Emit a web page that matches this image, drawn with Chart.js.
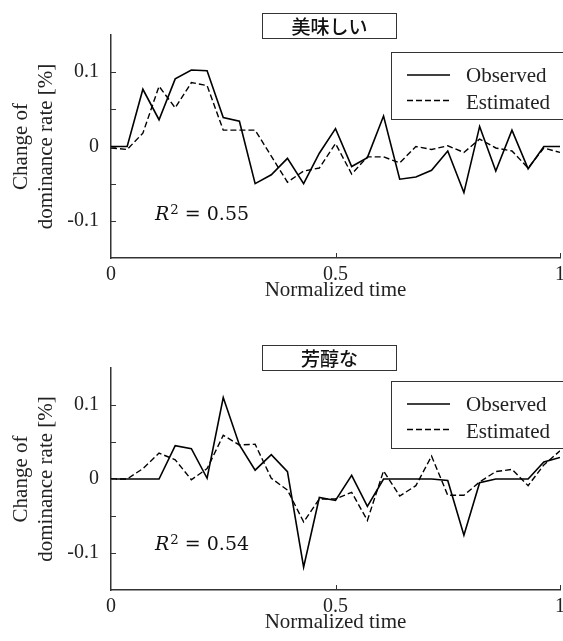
<!DOCTYPE html>
<html>
<head>
<meta charset="utf-8">
<script src="https://cdn.jsdelivr.net/npm/chart.js@4.4.1/dist/chart.umd.min.js"></script>
<style>
  html, body { margin: 0; padding: 0; background: #fff; }
  #wrap { position: relative; width: 563px; height: 641px; overflow: hidden; background: #fff; }
  canvas { position: absolute; left: 0; }
  .ttl { position: absolute; left: 262px; width: 135px; height: 26px; box-sizing: border-box;
         border: 1px solid #333; text-align: center; line-height: 24px;
         font-family: "Noto Sans CJK JP", "Noto Sans CJK SC", sans-serif; font-size: 19px; font-weight: 500; color: #111; }
  .r2 { position: absolute; left: 155px; font-family: "DejaVu Serif", serif; font-size: 19px; line-height: 1; color: #111; white-space: nowrap; }
  .r2 sup { font-size: 0.7em; position: relative; top: -0.1em; vertical-align: top; margin-left: 1px; }
</style>
</head>
<body>
<div id="wrap">
  <canvas id="c1" width="600" height="320" style="top:0px;width:600px;height:320px"></canvas>
  <canvas id="c2" width="600" height="321" style="top:320px;width:600px;height:321px"></canvas>
  <div class="ttl" style="top:13px">美味しい</div>
  <div class="ttl" style="top:345px">芳醇な</div>
  <div class="r2" style="top:204px"><i>R</i><sup>2</sup> = 0.55</div>
  <div class="r2" style="top:534px"><i>R</i><sup>2</sup> = 0.54</div>
</div>
<script>
// ---- data ----
const times = [0, 0.036, 0.071, 0.107, 0.143, 0.179, 0.214, 0.25, 0.286, 0.321, 0.357, 0.393, 0.429, 0.464, 0.5,
               0.536, 0.571, 0.607, 0.643, 0.679, 0.714, 0.75, 0.786, 0.821, 0.857, 0.893, 0.929, 0.964, 1];
const seriesNames = ["Observed", "Estimated"];
const titles = ["美味しい", "芳醇な"];
const xTickLabels = ["0", "0.5", "1"];
const yTickLabels = ["-0.1", "0", "0.1"];
const xAxisTitle = "Normalized time";
const yAxisTitle = ["Change of", "dominance rate [%]"];

const observed1 = [0, 0, 0.077, 0.036, 0.091, 0.103, 0.102, 0.039, 0.034, -0.050, -0.038, -0.016, -0.050, -0.009, 0.024,
                   -0.027, -0.015, 0.041, -0.044, -0.041, -0.032, -0.006, -0.062, 0.027, -0.033, 0.022, -0.030, 0.000, 0.000];
const estimated1 = [-0.002, -0.004, 0.018, 0.081, 0.052, 0.086, 0.082, 0.022, 0.022, 0.022, -0.013, -0.048, -0.033, -0.029, 0.004,
                    -0.037, -0.014, -0.014, -0.022, 0.000, -0.004, 0.001, -0.008, 0.010, -0.002, -0.006, -0.029, -0.002, -0.008];
const observed2 = [0, 0, 0, 0, 0.045, 0.041, 0.001, 0.110, 0.046, 0.012, 0.033, 0.010, -0.119, -0.025, -0.029,
                   0.005, -0.037, 0, 0, 0, 0, -0.002, -0.076, -0.005, 0, 0, 0, 0.023, 0.029];
const estimated2 = [0, 0, 0.014, 0.035, 0.026, -0.001, 0.014, 0.059, 0.046, 0.047, 0.001, -0.015, -0.058, -0.027, -0.027,
                    -0.018, -0.056, 0.011, -0.023, -0.009, 0.031, -0.022, -0.022, -0.004, 0.010, 0.013, -0.009, 0.019, 0.038];

const AXIS = '#333';
const TEXT = '#222';
const SERIF = '"Liberation Serif", "Times New Roman", serif';

const innerTicks = {
  id: 'innerTicks',
  afterDraw(chart) {
    const ctx = chart.ctx, a = chart.chartArea;
    const xs = chart.scales.x, ys = chart.scales.y;
    ctx.save();
    ctx.strokeStyle = AXIS; ctx.lineWidth = 1;
    ys.ticks.forEach(t => {
      if (Math.abs(t.value) > 0.12) return;
      const p = Math.round(ys.getPixelForValue(t.value)) + 0.5;
      ctx.beginPath(); ctx.moveTo(a.left, p); ctx.lineTo(a.left + 5, p); ctx.stroke();
    });
    xs.ticks.forEach(t => {
      if (t.value <= 0) return;
      const p = Math.round(xs.getPixelForValue(t.value)) + 0.5;
      ctx.beginPath(); ctx.moveTo(p, a.bottom); ctx.lineTo(p, a.bottom - 5); ctx.stroke();
    });
    ctx.restore();
  }
};

const boxLegend = {
  id: 'boxLegend',
  afterDraw(chart, args, opts) {
    const ctx = chart.ctx;
    const bx = opts.x, by = opts.y;
    ctx.save();
    ctx.strokeStyle = AXIS; ctx.lineWidth = 1;
    ctx.strokeRect(bx + 0.5, by + 0.5, 220, 67);
    const rows = [[23, 29.5], [48.5, 56.5]];
    chart.data.datasets.forEach((ds, i) => {
      ctx.strokeStyle = '#000'; ctx.lineWidth = 1.5;
      ctx.setLineDash(ds.borderDash || []);
      ctx.beginPath(); ctx.moveTo(bx + 16, by + rows[i][0]); ctx.lineTo(bx + 59, by + rows[i][0]); ctx.stroke();
      ctx.setLineDash([]);
      ctx.fillStyle = TEXT; ctx.font = '21px ' + SERIF; ctx.textBaseline = 'alphabetic'; ctx.textAlign = 'left';
      ctx.fillText(ds.label, bx + 75, by + rows[i][1]);
    });
    ctx.restore();
  }
};

function makeChart(id, obs, est, padTop, padBottom, legendY) {
  const toPts = arr => arr.map((v, i) => ({ x: times[i], y: v }));
  return new Chart(document.getElementById(id), {
    type: 'line',
    data: {
      datasets: [
        { label: seriesNames[0], data: toPts(obs), borderColor: '#000', borderWidth: 1.6, pointRadius: 0, tension: 0, fill: false },
        { label: seriesNames[1], data: toPts(est), borderColor: '#000', borderWidth: 1.4, borderDash: [6, 3], pointRadius: 0, tension: 0, fill: false }
      ]
    },
    options: {
      responsive: false, animation: false, devicePixelRatio: 1,
      layout: { padding: { top: padTop, left: 0, right: 40, bottom: padBottom } },
      plugins: { legend: { display: false }, tooltip: { enabled: false }, boxLegend: { x: 391, y: legendY } },
      scales: {
        x: {
          type: 'linear', min: 0, max: 1,
          ticks: { stepSize: 0.5, padding: 5, color: TEXT, font: { family: SERIF, size: 20 }, maxRotation: 0,
                   callback: v => { const i = [0, 0.5, 1].findIndex(t => Math.abs(t - v) < 1e-6); return i >= 0 ? xTickLabels[i] : ''; } },
          grid: { display: false, drawTicks: false },
          border: { display: true, color: AXIS, width: 1.5 },
          title: { display: true, text: xAxisTitle, color: TEXT, font: { family: SERIF, size: 21 }, padding: { top: 0, bottom: 0 } },
          afterFit: s => { s.height = 45; }
        },
        y: {
          min: -0.15, max: 0.15,
          ticks: { stepSize: 0.05, padding: 12, color: TEXT, font: { family: SERIF, size: 20 },
                   callback: v => { const i = [-0.1, 0, 0.1].findIndex(t => Math.abs(t - v) < 1e-6); return i >= 0 ? yTickLabels[i] : ''; } },
          grid: { display: false, drawTicks: false },
          border: { display: true, color: AXIS, width: 1.5 },
          title: { display: true, text: yAxisTitle, color: TEXT, font: { family: SERIF, size: 21 }, padding: { top: 8.7, bottom: 0 } },
          afterFit: s => { s.width = 111; }
        }
      }
    },
    plugins: [innerTicks, boxLegend]
  });
}

makeChart('c1', observed1, estimated1, 35, 17, 52);
makeChart('c2', observed2, estimated2, 48, 6, 61);
</script>
</body>
</html>
